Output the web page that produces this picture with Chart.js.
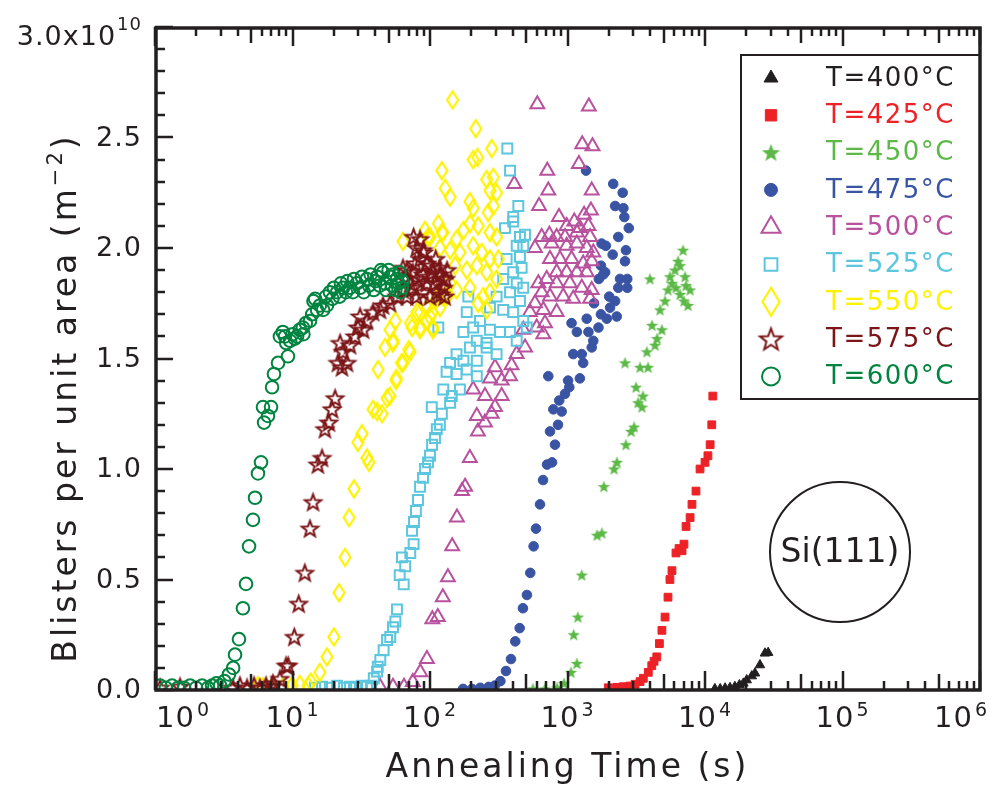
<!DOCTYPE html>
<html>
<head>
<meta charset="utf-8">
<title>Blister density vs annealing time</title>
<script src="https://cdn.jsdelivr.net/npm/chart.js@4.4.1/dist/chart.umd.min.js"></script>
<style>
  html, body { margin: 0; padding: 0; background: #fff; }
  #chart { display: block; }
</style>
</head>
<body>
<canvas id="chart" width="990" height="789"></canvas>
<script>
// annealing temperatures (°C) and their marker colours
const temps = [400, 425, 450, 475, 500, 525, 550, 575, 600];
const colors = ['#231f20', '#ec2227', '#5cb947', '#3a54a4', '#b8529e', '#5bc6dd', '#fff200', '#7b1517', '#00843f'];

// annealing time in s, blister density in 1e10 m^-2
const time400 = [11800, 12900, 14000, 15200, 16500, 17800, 19000, 20100, 21900, 23100, 25100, 27300, 28800];
const dens400 = [0.005, 0.005, 0.008, 0.01, 0.015, 0.023, 0.03, 0.045, 0.063, 0.076, 0.113, 0.166, 0.169];

const time425 = [1980, 2280, 2550, 2850, 3100, 3370, 3560, 3870, 4100, 4260, 4460, 4660, 4860, 5120, 5380, 5560, 5750, 6150, 6470, 6810, 7030, 7280, 7790, 8040, 8600, 9200, 10000, 10500, 10900, 11200, 11400];
const dens425 = [0.01, 0.012, 0.015, 0.018, 0.026, 0.038, 0.053, 0.08, 0.11, 0.13, 0.15, 0.21, 0.27, 0.33, 0.42, 0.50, 0.54, 0.62, 0.64, 0.63, 0.66, 0.74, 0.78, 0.84, 0.90, 1.0, 1.03, 1.06, 1.11, 1.20, 1.33];

const time450 = [561, 686, 839, 944, 1060, 1170, 1110, 1190, 1270, 1640, 1780, 1840, 2180, 2290, 2660, 2900, 3050, 3260, 3540, 3480, 3150, 2620, 3370, 3850, 3780, 4480, 4120, 3980, 4710, 5120, 5380, 5750, 6150, 6580, 7030, 7520, 5560, 6050, 6580, 7160, 6370, 6920, 7280, 7790, 4860, 4330];
const dens450 = [0.005, 0.005, 0.01, 0.03, 0.08, 0.12, 0.25, 0.33, 0.52, 0.70, 0.71, 0.92, 1.0, 1.03, 1.11, 1.17, 1.19, 1.30, 1.33, 1.28, 1.37, 1.48, 1.46, 1.46, 1.53, 1.59, 1.65, 1.86, 1.72, 1.76, 1.81, 1.84, 1.82, 1.79, 1.76, 1.74, 1.87, 1.90, 1.92, 1.87, 1.94, 1.99, 1.83, 1.81, 1.63, 1.56];

const time475 = [174, 202, 232, 267, 296, 325, 357, 388, 417, 449, 474, 507, 536, 567, 590, 631, 664, 710, 772, 811, 746, 853, 1364, 2150, 2520, 2220, 2550, 2590, 2790, 1770, 1900, 2340, 2660, 2130, 2620, 1750, 1880, 1820, 1690, 2410, 2720, 2340, 2720, 2010, 2220, 1560, 2040, 1750, 1930, 2280, 1070, 1380, 1170, 1420, 1680, 1540, 1500, 1100, 1270, 1300, 725, 1010, 1230, 1030, 959, 871, 789, 907];
const dens475 = [0.005, 0.005, 0.01, 0.014, 0.02, 0.04, 0.086, 0.14, 0.22, 0.28, 0.37, 0.43, 0.53, 0.65, 0.73, 0.84, 0.95, 1.02, 1.03, 1.11, 1.17, 1.2, 2.35, 2.29, 2.25, 2.19, 2.18, 2.14, 2.09, 2.02, 2.01, 2.05, 1.99, 1.97, 1.94, 1.92, 1.89, 1.88, 1.86, 1.86, 1.86, 1.82, 1.82, 1.78, 1.76, 1.75, 1.73, 1.70, 1.68, 1.69, 1.66, 1.68, 1.62, 1.62, 1.64, 1.58, 1.55, 1.52, 1.52, 1.48, 1.42, 1.40, 1.41, 1.37, 1.34, 1.31, 1.27, 1.26];

const time500 = [43.3, 53.8, 64.7, 75, 85, 95, 104, 114, 124, 135, 145, 157, 171, 180, 195, 223, 251, 603, 1430, 1280, 1520, 1210, 713, 410, 725, 1500, 621, 1480, 867, 1320, 1120, 986, 1230, 1420, 649, 738, 834, 959, 1170, 1460, 580, 767, 986, 1170, 1380, 1540, 746, 881, 1070, 1300, 1500, 834, 986, 1170, 1380, 614, 706, 834, 1040, 1270, 1500, 649, 746, 931, 1100, 1460, 580, 667, 834, 533, 686, 597, 477, 667, 491, 427, 392, 297, 273, 332, 382, 206, 251, 332, 297, 219, 281];
const dens500 = [0.015, 0.015, 0.015, 0.036, 0.08, 0.14, 0.32, 0.33, 0.42, 0.51, 0.65, 0.78, 0.9, 0.92, 1.05, 1.17, 1.21, 2.65, 2.64, 2.47, 2.46, 2.38, 2.35, 2.29, 2.26, 2.26, 2.19, 2.17, 2.14, 2.15, 2.12, 2.10, 2.09, 2.10, 2.05, 2.06, 2.05, 2.05, 2.07, 2.05, 2.0, 2.02, 2.01, 2.02, 2.0, 1.98, 1.95, 1.95, 1.95, 1.93, 1.94, 1.89, 1.89, 1.89, 1.89, 1.84, 1.86, 1.84, 1.84, 1.82, 1.81, 1.80, 1.78, 1.78, 1.77, 1.77, 1.75, 1.72, 1.71, 1.71, 1.66, 1.64, 1.63, 1.61, 1.55, 1.52, 1.47, 1.46, 1.41, 1.40, 1.42, 1.36, 1.33, 1.33, 1.28, 1.24, 1.25];

const time525 = [14.6, 16.4, 18.7, 21.1, 23.7, 26.2, 29, 32, 34.8, 37.2, 39, 41.2, 41.7, 43.5, 46, 48.7, 51.4, 53.8, 56, 57.5, 64.4, 60.2, 66, 62.5, 71.9, 76, 74, 76.5, 79, 81.8, 84.6, 89, 92, 96.7, 100, 103.5, 108.7, 112, 118, 365, 382, 439, 403, 403, 351, 451, 491, 427, 477, 451, 361, 464, 403, 341, 427, 477, 382, 451, 305, 273, 341, 403, 477, 505, 231, 206, 175, 273, 323, 382, 427, 115, 219, 195, 258, 305, 156, 175, 219, 140, 132, 156, 185, 219, 125, 144, 165, 140, 103, 122, 258, 190, 185];
const dens525 = [0.01, 0.015, 0.01, 0.02, 0.01, 0.015, 0.01, 0.02, 0.015, 0.02, 0.053, 0.083, 0.105, 0.136, 0.18, 0.226, 0.24, 0.284, 0.31, 0.365, 0.478, 0.52, 0.56, 0.60, 0.62, 0.66, 0.72, 0.76, 0.81, 0.86, 0.92, 0.96, 1.0, 1.03, 1.06, 1.11, 1.14, 1.18, 1.2, 2.45, 2.35, 2.19, 2.14, 2.12, 2.09, 2.05, 2.06, 2.01, 2.01, 1.96, 1.95, 1.91, 1.89, 1.86, 1.84, 1.82, 1.80, 1.76, 1.78, 1.73, 1.72, 1.71, 1.67, 1.64, 1.67, 1.64, 1.62, 1.63, 1.62, 1.62, 1.58, 1.64, 1.58, 1.55, 1.55, 1.52, 1.52, 1.49, 1.49, 1.48, 1.44, 1.43, 1.45, 1.42, 1.36, 1.33, 1.36, 1.30, 1.28, 1.25, 1.57, 1.78, 1.71];

const time550 = [5.61, 6.1, 7.21, 8.53, 9.91, 11.3, 13.0, 13.6, 15.8, 17.8, 20.0, 21.8, 24.1, 25.8, 28.0, 29.9, 32.0, 34.8, 36, 38.5, 41.2, 44.8, 48.7, 41.9, 56.6, 63.6, 71.6, 47.1, 53.8, 51.2, 74, 84.6, 80.4, 95, 105, 103.5, 118, 133, 63.6, 96.7, 118, 124, 146, 215, 281, 206, 222, 122, 129, 140, 258, 289, 305, 273, 195, 206, 265, 289, 115, 122, 92, 100, 156, 175, 195, 224, 273, 305, 140, 165, 206, 238, 273, 314, 152, 185, 219, 258, 305, 140, 156, 195, 244, 273, 258, 224, 125, 112, 95, 85, 100, 72, 85, 105, 56, 54, 70, 62, 57, 51];
const dens550 = [0.02, 0.015, 0.02, 0.015, 0.02, 0.025, 0.02, 0.036, 0.08, 0.15, 0.24, 0.44, 0.6, 0.78, 0.91, 1.12, 1.16, 1.05, 1.03, 1.27, 1.26, 1.25, 1.32, 1.45, 1.40, 1.48, 1.53, 1.55, 1.57, 1.63, 1.64, 1.63, 1.71, 1.67, 1.63, 1.71, 1.73, 1.78, 2.03, 2.05, 2.0, 2.07, 2.67, 2.54, 2.45, 2.40, 2.41, 2.35, 2.27, 2.23, 2.31, 2.32, 2.25, 2.26, 2.21, 2.18, 2.16, 2.19, 2.11, 2.07, 2.08, 2.05, 2.04, 2.08, 2.11, 2.10, 2.07, 2.05, 1.99, 1.98, 2.01, 1.98, 1.95, 1.95, 1.92, 1.90, 1.92, 1.89, 1.86, 1.84, 1.81, 1.82, 1.78, 1.80, 1.72, 1.75, 1.78, 1.77, 1.73, 1.71, 1.69, 1.66, 1.64, 1.64, 1.67, 1.58, 1.54, 1.48, 1.41, 1.33];

const time575 = [1.09, 1.52, 3.69, 4.15, 4.67, 5.25, 5.8, 6.42, 7.1, 7.2, 8.1, 8.97, 9.3, 10.3, 11.1, 12.3, 13.4, 14.1, 15.3, 16.4, 17.2, 18.4, 19.4, 20.4, 22.9, 21.4, 24.9, 23.3, 26.2, 22.2, 28.5, 29.9, 32.6, 34.8, 31, 38.5, 43.3, 45.5, 51.2, 57.5, 63.6, 71.6, 80.4, 84.6, 89, 95, 105, 118, 124, 75, 63.6, 68, 68, 75, 78, 80, 85, 89, 89, 95, 100, 102, 108, 112, 118, 125, 130, 133, 128, 80, 90, 76, 66, 110, 120, 98];
const dens575 = [0.01, 0.015, 0.01, 0.02, 0.01, 0.02, 0.01, 0.02, 0.015, 0.03, 0.05, 0.11, 0.11, 0.24, 0.39, 0.53, 0.73, 0.85, 1.02, 1.05, 1.18, 1.21, 1.27, 1.32, 1.46, 1.48, 1.48, 1.53, 1.56, 1.57, 1.6, 1.64, 1.63, 1.67, 1.69, 1.71, 1.72, 1.74, 1.75, 1.78, 1.81, 1.84, 1.86, 2.04, 1.99, 1.93, 1.89, 1.91, 1.86, 1.89, 1.91, 1.78, 1.9, 1.82, 1.93, 1.78, 1.95, 1.8, 1.88, 1.84, 1.78, 1.92, 1.84, 1.8, 1.88, 1.82, 1.86, 1.9, 1.78, 2.0, 1.98, 2.05, 1.86, 1.95, 1.79, 1.87];

const time600 = [1.09, 1.2, 1.33, 1.47, 1.63, 1.8, 1.99, 2.2, 2.43, 2.6, 2.8, 2.97, 3.2, 3.45, 3.7, 3.82, 4.08, 4.36, 4.59, 4.83, 5.16, 5.34, 5.61, 5.9, 6.21, 6.63, 6.1, 6.98, 7.1, 7.33, 7.85, 9.27, 8.1, 8.82, 9.6, 10.8, 11.3, 11.9, 13.4, 15.1, 14.6, 16.7, 18.7, 21.1, 23.3, 26.2, 29.4, 34.8, 41.2, 45.5, 51.2, 57.5, 62.5, 8.5, 9.0, 10.0, 10.4, 12.5, 12.0, 13.9, 14.2, 15.8, 17.5, 17.8, 19.5, 20, 22, 22.5, 24.5, 25, 27.5, 28, 31, 32, 33, 36, 37, 39, 40, 43, 44, 47, 48, 50, 53, 54, 56, 59, 60, 61, 63];
const dens600 = [0.02, 0.01, 0.02, 0.01, 0.01, 0.02, 0.01, 0.02, 0.01, 0.02, 0.03, 0.02, 0.04, 0.07, 0.10, 0.16, 0.23, 0.37, 0.48, 0.65, 0.77, 0.87, 0.98, 1.03, 1.21, 1.24, 1.28, 1.28, 1.37, 1.43, 1.48, 1.51, 1.6, 1.6, 1.58, 1.6, 1.63, 1.64, 1.67, 1.72, 1.77, 1.72, 1.8, 1.8, 1.82, 1.82, 1.84, 1.86, 1.87, 1.89, 1.87, 1.86, 1.82, 1.62, 1.57, 1.61, 1.59, 1.66, 1.61, 1.7, 1.76, 1.74, 1.78, 1.74, 1.77, 1.82, 1.78, 1.84, 1.8, 1.85, 1.8, 1.86, 1.82, 1.87, 1.8, 1.83, 1.88, 1.81, 1.85, 1.83, 1.9, 1.84, 1.81, 1.9, 1.83, 1.88, 1.81, 1.84, 1.89, 1.8, 1.85];

// axis ticks
const xTicks = [1, 10, 100, 1000, 1e4, 1e5, 1e6];
const yTicks = [0, 0.5, 1.0, 1.5, 2.0, 2.5, 3.0];
const yMinorTicks = [0.1, 0.2, 0.3, 0.4, 0.6, 0.7, 0.8, 0.9, 1.1, 1.2, 1.3, 1.4, 1.6, 1.7, 1.8, 1.9, 2.1, 2.2, 2.3, 2.4, 2.6, 2.7, 2.8, 2.9];
const xMinorFactors = [2, 3, 4, 5, 6, 7, 8, 9];

const times = [time400, time425, time450, time475, time500, time525, time550, time575, time600];
const dens = [dens400, dens425, dens450, dens475, dens500, dens525, dens550, dens575, dens600];

const ink = '#231f20';
const FONT = '"DejaVu Sans", "Liberation Sans", sans-serif';

// --- custom marker sprites -------------------------------------------------
function makeSprite(w, h, draw) {
  const c = document.createElement('canvas');
  c.width = w; c.height = h;
  const g = c.getContext('2d');
  g.translate(w / 2, h / 2);
  draw(g);
  return c;
}

function star(r, fill, stroke, lw) {
  const s = Math.ceil(2 * r + 2 * lw + 2);
  return makeSprite(s, s, g => {
    g.beginPath();
    for (let k = 0; k < 10; k++) {
      const rr = k % 2 ? r * 0.42 : r;
      const a = -Math.PI / 2 + k * Math.PI / 5;
      g.lineTo(rr * Math.cos(a), rr * Math.sin(a) + r * 0.08);
    }
    g.closePath();
    if (fill) { g.fillStyle = fill; g.fill(); }
    if (stroke) { g.strokeStyle = stroke; g.lineWidth = lw; g.lineJoin = 'miter'; g.stroke(); }
  });
}

function diamond(hw, hh, stroke, lw) {
  return makeSprite(Math.ceil(2 * hw + 2 * lw + 2), Math.ceil(2 * hh + 2 * lw + 2), g => {
    g.beginPath();
    g.moveTo(0, -hh); g.lineTo(hw, 0); g.lineTo(0, hh); g.lineTo(-hw, 0);
    g.closePath();
    g.strokeStyle = stroke; g.lineWidth = lw; g.stroke();
  });
}

const clear = 'rgba(0,0,0,0)';
const markers = [
  { pointStyle: 'triangle', radius: 5.5, bg: colors[0], bw: 1 },
  { pointStyle: 'rect', radius: 5.5, bg: colors[1], bw: 1 },
  { pointStyle: star(6.5, colors[2], null, 0), radius: 6, bg: colors[2], bw: 0 },
  { pointStyle: 'circle', radius: 4.8, bg: colors[3], bw: 1 },
  { pointStyle: 'triangle', radius: 8, bg: clear, bw: 2 },
  { pointStyle: 'rect', radius: 7, bg: clear, bw: 2 },
  { pointStyle: diamond(5.5, 8.5, colors[6], 2.2), radius: 8, bg: clear, bw: 0 },
  { pointStyle: star(8.5, null, colors[7], 2), radius: 8, bg: clear, bw: 0 },
  { pointStyle: 'circle', radius: 6.3, bg: clear, bw: 2 }
];

// the key uses somewhat bigger symbols than the plot
const keyMarkers = [
  { pointStyle: 'triangle', radius: 8, bg: colors[0], bw: 1 },
  { pointStyle: 'rect', radius: 8, bg: colors[1], bw: 1 },
  { pointStyle: star(9.5, colors[2], null, 0), radius: 9, bg: colors[2], bw: 0 },
  { pointStyle: 'circle', radius: 6.5, bg: colors[3], bw: 1 },
  { pointStyle: 'triangle', radius: 11, bg: clear, bw: 2 },
  { pointStyle: 'rect', radius: 9, bg: clear, bw: 2 },
  { pointStyle: diamond(8.5, 14, colors[6], 2.2), radius: 12, bg: clear, bw: 0 },
  { pointStyle: star(11.5, null, colors[7], 2), radius: 11, bg: clear, bw: 0 },
  { pointStyle: 'circle', radius: 9, bg: clear, bw: 2 }
];

const datasets = temps.map((T, i) => ({
  label: 'T=' + T + '°C',
  data: times[i].map((t, k) => ({ x: t, y: dens[i][k] })),
  pointStyle: markers[i].pointStyle,
  pointRadius: markers[i].radius,
  pointBackgroundColor: markers[i].bg,
  pointBorderColor: colors[i],
  pointBorderWidth: markers[i].bw,
  showLine: false,
  order: temps.length - 1 - i   // hotter runs drawn on top
}));

// --- axes, labels, legend and the sample tag --------------------------------
function spaced(ctx, text, x, y, spacing) {
  ctx.letterSpacing = spacing + 'px';
  ctx.fillText(text, x, y);
  ctx.letterSpacing = '0px';
}

// inward tick marks as filled bars
function hTick(ctx, x0, y0, len) { ctx.fillRect(x0, Math.round(y0) - 1.25, len, 2.5); }
function vTick(ctx, x0, y0, len) { ctx.fillRect(Math.round(x0) - 1.25, y0, 2.5, len); }

const frame = {
  id: 'frame',
  afterDraw(chart) {
    const ctx = chart.ctx;
    const a = chart.chartArea;
    const xs = chart.scales.x;
    const ys = chart.scales.y;
    ctx.save();
    ctx.fillStyle = ink;
    ctx.strokeStyle = ink;

    // left axis ticks
    yMinorTicks.forEach(v => hTick(ctx, a.left, ys.getPixelForValue(v), 10));
    yTicks.forEach(v => hTick(ctx, a.left, ys.getPixelForValue(v), 18));

    // bottom and top log ticks
    xTicks.forEach((t, d) => {
      const px = xs.getPixelForValue(t);
      vTick(ctx, px, a.bottom - 19, 19);
      vTick(ctx, px, a.top, 19);
      if (d === xTicks.length - 1) return;
      xMinorFactors.forEach(m => {
        const mx = xs.getPixelForValue(t * m);
        const len = m === 5 ? 16 : 9;
        vTick(ctx, mx, a.bottom - len, len);
        vTick(ctx, mx, a.top, len);
      });
    });

    // frame
    ctx.lineWidth = 3.5;
    ctx.strokeRect(a.left + 1, a.top + 1, a.right - a.left - 1, a.bottom - a.top - 1);

    // y tick labels
    ctx.font = '27px ' + FONT;
    ctx.textAlign = 'right';
    ctx.textBaseline = 'middle';
    yTicks.slice(0, -1).forEach(v => {
      spaced(ctx, v.toFixed(1), 142, ys.getPixelForValue(v) + 1, 1);
    });
    const yMax = yTicks[yTicks.length - 1];
    const topY = ys.getPixelForValue(yMax);
    ctx.textBaseline = 'alphabetic';
    ctx.font = '18px ' + FONT;
    ctx.letterSpacing = '1px';
    const expW = ctx.measureText('10').width;
    ctx.fillText('10', 142, topY + 3);
    ctx.font = '27px ' + FONT;
    ctx.fillText(yMax.toFixed(1) + 'x10', 142 - expW - 1, topY + 18);
    ctx.letterSpacing = '0px';

    // x tick labels: 10 with a raised exponent
    ctx.textAlign = 'left';
    xTicks.forEach(t => {
      const e = String(Math.round(Math.log10(t)));
      ctx.font = '29px ' + FONT;
      ctx.letterSpacing = '1px';
      const wb = ctx.measureText('10').width;
      ctx.font = '19px ' + FONT;
      const we = ctx.measureText(e).width;
      let left = xs.getPixelForValue(t) - (wb + we + 2) / 2;
      left = Math.max(156, Math.min(988 - wb - we - 2, left));
      ctx.font = '29px ' + FONT;
      ctx.fillText('10', left, 727);
      ctx.font = '19px ' + FONT;
      ctx.fillText(e, left + wb + 2, 716);
      ctx.letterSpacing = '0px';
    });

    // axis titles
    ctx.font = '33px ' + FONT;
    ctx.textAlign = 'center';
    spaced(ctx, 'Annealing Time (s)', (a.left + a.right) / 2, 777, 3);

    ctx.save();
    ctx.translate(76, 398);
    ctx.rotate(-Math.PI / 2);
    ctx.textAlign = 'left';
    ctx.letterSpacing = '3px';
    const main = 'Blisters per unit area (m';
    ctx.font = '33px ' + FONT;
    const w1 = ctx.measureText(main).width;
    ctx.font = '21px ' + FONT;
    const w2 = ctx.measureText('−2').width;
    ctx.font = '33px ' + FONT;
    const w3 = ctx.measureText(')').width;
    const sx = -(w1 + w2 + w3) / 2;
    ctx.fillText(main, sx, 0);
    ctx.font = '21px ' + FONT;
    ctx.fillText('−2', sx + w1, -14);
    ctx.font = '33px ' + FONT;
    ctx.fillText(')', sx + w1 + w2, 0);
    ctx.restore();

    // legend box
    const lx = 741, ly = 55, lw = a.right - lx, lh = 344;
    ctx.lineWidth = 2;
    ctx.strokeRect(lx, ly, lw, lh);
    ctx.font = '26px ' + FONT;
    ctx.textAlign = 'left';
    ctx.textBaseline = 'middle';
    datasets.forEach((ds, i) => {
      const ry = 78 + i * 37.3;
      const km = keyMarkers[i];
      ctx.save();
      ctx.fillStyle = km.bg;
      ctx.strokeStyle = colors[i];
      ctx.lineWidth = km.bw;
      Chart.helpers.drawPoint(ctx, {
        pointStyle: km.pointStyle,
        radius: km.radius,
        borderWidth: km.bw,
        rotation: 0
      }, 771, ry);
      ctx.restore();
      ctx.fillStyle = colors[i];
      spaced(ctx, ds.label, 826, ry + 1, 1.5);
    });

    // sample tag
    ctx.fillStyle = ink;
    ctx.strokeStyle = ink;
    ctx.lineWidth = 2;
    ctx.beginPath();
    ctx.arc(840, 552, 70, 0, Math.PI * 2);
    ctx.stroke();
    ctx.font = '33px ' + FONT;
    ctx.textAlign = 'center';
    ctx.textBaseline = 'middle';
    ctx.fillText('Si(111)', 840, 553);

    ctx.restore();
  }
};

new Chart(document.getElementById('chart'), {
  type: 'scatter',
  data: { datasets },
  options: {
    responsive: false,
    devicePixelRatio: 1,
    animation: false,
    events: [],
    layout: { padding: { left: 155, top: 27, right: 10, bottom: 99 } },
    scales: {
      x: { type: 'logarithmic', min: xTicks[0], max: xTicks[xTicks.length - 1], display: false },
      y: { type: 'linear', min: yTicks[0], max: yTicks[yTicks.length - 1], display: false }
    },
    plugins: { legend: { display: false }, tooltip: { enabled: false } }
  },
  plugins: [frame]
});
</script>
</body>
</html>
